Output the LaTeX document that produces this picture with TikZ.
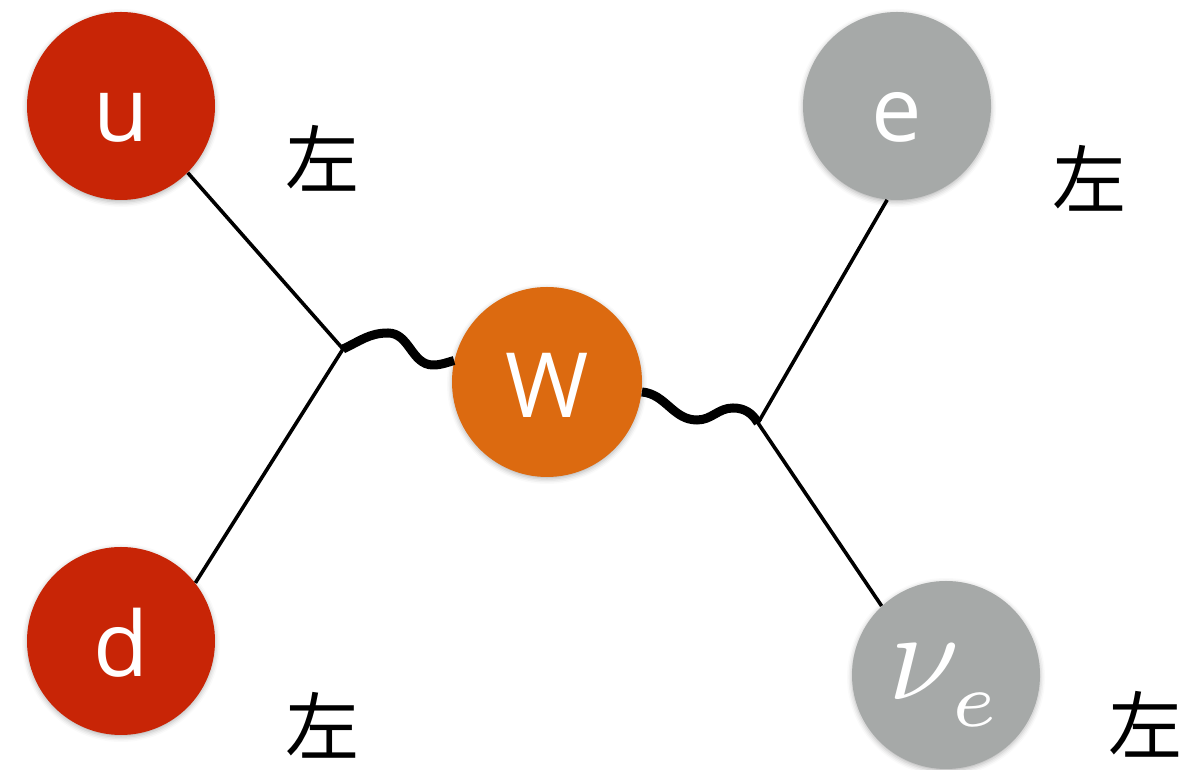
\documentclass[tikz,border=0pt]{standalone}
\usepackage{graphicx}
\usepackage{fontspec}
\setsansfont{Open Sans}
\newfontfamily\cjk{Noto Sans CJK JP}
\usetikzlibrary{shadows.blur}
\definecolor{quark}{RGB}{200,37,6}
\definecolor{boson}{RGB}{220,106,16}
\definecolor{lepton}{RGB}{166,169,168}
\tikzset{
	particle/.style={circle, inner sep=0pt, minimum size=94pt, text=white,
		text height=36pt, text depth=0pt,
		font=\sffamily\fontsize{45}{54}\selectfont,
		blur shadow={shadow xshift=0pt, shadow yshift=-1pt, shadow blur radius=2.5pt, shadow opacity=30}},
	fermion/.style={line width=1.8pt},
	wboson/.style={line width=4.5pt},
	chirality/.style={font=\cjk\fontsize{37}{40}\selectfont},
}

\begin{document}
\begin{tikzpicture}[x=0.5pt,y=0.5pt]
			\useasboundingbox (0,0) rectangle (1184,770);
			\node[particle, fill=quark] (u) at (121,664) {u};
			\node[particle, fill=quark] (d) at (121,129) {d};
			\node[particle, fill=boson, minimum size=95pt] (W) at (547,388) {W};
			\node[particle, fill=lepton] (e) at (897,664) {e};
			\node[particle, fill=lepton, text height=25pt] (nu) at (946,95) {\normalsize\scalebox{6.4}{$\nu_{\raisebox{-0.6pt}{\fontsize{6}{6}\selectfont$e$}}$}};
			\node[chirality] (lu) at (322,612) {左};
			\node[chirality] (ld) at (322,45) {左};
			\node[chirality] (le) at (1089,592) {左};
			\node[chirality] (lnu) at (1145,46) {左};
			% vertices and wiggles
			\coordinate (v1) at (343,421);
			\coordinate (v2) at (758,347);
			\coordinate (lw1) at (388,437);
			\coordinate (lw2) at (433,405);
			\coordinate (rw1) at (697,350);
			\coordinate (rw2) at (733,362);
			\draw[fermion] (u.-45) -- (v1) -- (d.38);
			\draw[fermion] (e.-96) -- (v2) -- (nu.133);
			\draw[wboson] (v1) to[out=25,in=180] (lw1) to[out=0,in=180] (lw2) to[out=0,in=195] (W.167);
			\draw[wboson] (W.-6) to[out=-5,in=180] (rw1) to[out=0,in=180] (rw2) to[out=0,in=120] (v2);
			\end{tikzpicture}
\end{document}
